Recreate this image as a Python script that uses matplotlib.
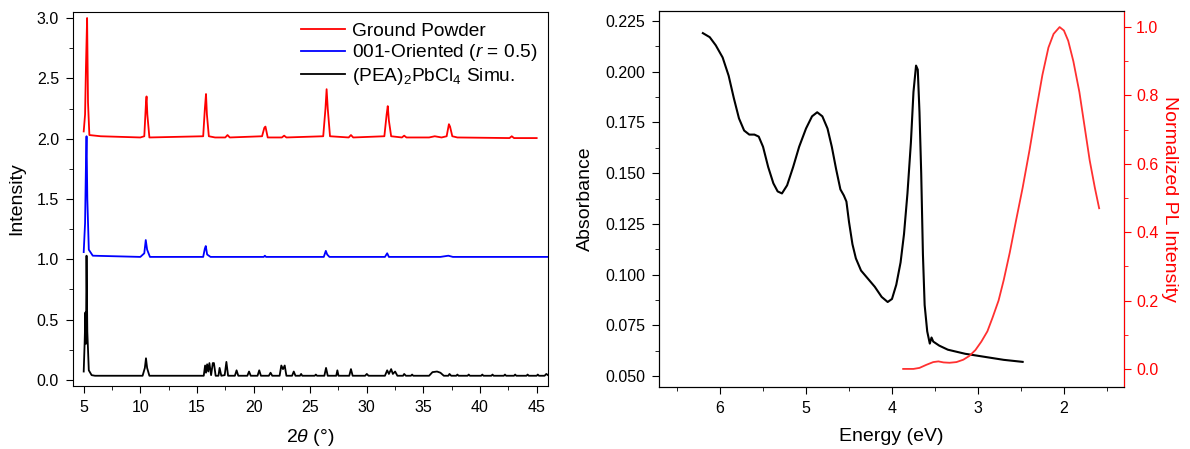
import matplotlib
matplotlib.use("Agg")
import matplotlib.pyplot as plt
from matplotlib.ticker import MultipleLocator, FormatStrFormatter

plt.rcParams['font.family'] = ['Liberation Sans', 'DejaVu Sans']
plt.rcParams['mathtext.fontset'] = 'custom'
plt.rcParams['mathtext.rm'] = 'Liberation Sans'
plt.rcParams['mathtext.it'] = 'Liberation Sans:italic'

# XRD data (2theta, intensity with offsets)
red_x = [5.0, 5.12, 5.2, 5.3, 5.38, 5.5, 6.5, 10.0, 10.35, 10.5, 10.55, 10.62, 10.8,
         15.55, 15.7, 15.8, 15.88, 16.05, 16.6, 17.5, 17.7, 17.9, 20.75, 20.95, 21.05, 21.25,
         22.5, 22.7, 22.9, 26.15, 26.35, 26.45, 26.55, 26.75, 28.4, 28.6, 28.8,
         31.55, 31.75, 31.85, 31.95, 32.15, 33.1, 33.3, 33.5, 35.5, 36.0, 36.6,
         37.05, 37.25, 37.35, 37.55, 38.0, 42.6, 42.8, 43.0, 45.0]
red_y = [2.06, 2.2, 2.6, 3.0, 2.3, 2.03, 2.02, 2.01, 2.02, 2.3, 2.35, 2.2, 2.01,
         2.02, 2.25, 2.37, 2.2, 2.02, 2.01, 2.01, 2.03, 2.01, 2.02, 2.09, 2.1, 2.01,
         2.01, 2.025, 2.01, 2.02, 2.25, 2.41, 2.25, 2.02, 2.01, 2.03, 2.01,
         2.02, 2.2, 2.27, 2.15, 2.02, 2.01, 2.025, 2.01, 2.01, 2.02, 2.01,
         2.02, 2.12, 2.1, 2.02, 2.01, 2.005, 2.02, 2.005, 2.005]

blue_x = [5.0, 5.12, 5.2, 5.25, 5.32, 5.45, 5.8, 10.0, 10.35, 10.48, 10.6, 10.85,
          15.55, 15.7, 15.78, 15.9, 16.2, 20.9, 21.0, 21.1, 26.2, 26.38, 26.5, 26.7,
          31.6, 31.8, 31.95, 36.5, 37.2, 37.6, 46.0]
blue_y = [1.06, 1.3, 1.8, 2.02, 1.5, 1.08, 1.03, 1.02, 1.05, 1.16, 1.08, 1.02,
          1.02, 1.09, 1.11, 1.04, 1.02, 1.02, 1.03, 1.02, 1.02, 1.07, 1.04, 1.02,
          1.02, 1.05, 1.02, 1.02, 1.03, 1.02, 1.02]

black_x = [5.0, 5.08, 5.15, 5.2, 5.25, 5.32, 5.45, 5.7, 6.0, 10.2, 10.4, 10.5, 10.6, 10.8,
           15.6, 15.72, 15.8, 15.9, 16.0, 16.1, 16.25, 16.4, 16.5, 16.65,
           16.9, 17.0, 17.15, 17.45, 17.6, 17.75, 18.35, 18.5, 18.65,
           19.45, 19.6, 19.75, 20.35, 20.5, 20.65, 21.35, 21.5, 21.65,
           22.3, 22.45, 22.6, 22.75, 22.9, 23.4, 23.55, 23.7, 24.1, 24.2, 24.3,
           25.4, 25.5, 25.6, 26.25, 26.4, 26.55, 27.3, 27.4, 27.5, 28.45, 28.6, 28.75,
           29.85, 30.0, 30.15, 31.6, 31.8, 31.95, 32.15, 32.3, 32.5, 32.7,
           33.2, 33.3, 33.45, 33.9, 34.0, 34.1, 35.5, 35.8, 36.2, 36.5, 36.8,
           37.2, 37.3, 37.45, 37.9, 38.0, 38.1, 38.9, 39.0, 39.1, 40.1, 40.2, 40.3,
           41.0, 41.1, 41.2, 42.1, 42.2, 42.3, 43.0, 43.1, 43.2, 44.1, 44.2, 44.3,
           45.0, 45.1, 45.2, 45.7, 45.85, 46.0]
black_y = [0.07, 0.3, 0.56, 0.3, 1.03, 0.4, 0.08, 0.04, 0.035, 0.035, 0.1, 0.18, 0.1, 0.035,
           0.035, 0.12, 0.06, 0.13, 0.07, 0.14, 0.04, 0.14, 0.14, 0.035,
           0.035, 0.1, 0.035, 0.04, 0.15, 0.035, 0.035, 0.08, 0.035,
           0.035, 0.07, 0.035, 0.035, 0.08, 0.035, 0.035, 0.06, 0.035,
           0.035, 0.12, 0.09, 0.12, 0.035, 0.035, 0.07, 0.035, 0.035, 0.05, 0.035,
           0.035, 0.045, 0.035, 0.035, 0.10, 0.035, 0.035, 0.08, 0.035, 0.035, 0.09, 0.035,
           0.035, 0.05, 0.035, 0.035, 0.08, 0.05, 0.09, 0.05, 0.07, 0.035,
           0.035, 0.05, 0.035, 0.035, 0.045, 0.035, 0.035, 0.065, 0.07, 0.06, 0.035,
           0.035, 0.05, 0.035, 0.035, 0.045, 0.035, 0.035, 0.045, 0.035, 0.035, 0.045, 0.035,
           0.035, 0.045, 0.035, 0.035, 0.045, 0.035, 0.035, 0.045, 0.035, 0.035, 0.045, 0.035,
           0.035, 0.045, 0.035, 0.035, 0.05, 0.04]

# Absorbance vs energy
abs_e = [6.20, 6.12, 6.05, 5.97, 5.90, 5.84, 5.78, 5.72, 5.66, 5.60, 5.55, 5.50, 5.44,
         5.38, 5.33, 5.28, 5.22, 5.15, 5.08, 5.00, 4.93, 4.87, 4.81, 4.75, 4.70, 4.65,
         4.60, 4.56, 4.53, 4.50, 4.46, 4.42, 4.36, 4.28, 4.20, 4.12, 4.05, 4.00, 3.95,
         3.90, 3.86, 3.82, 3.78, 3.75, 3.72, 3.70, 3.68, 3.66, 3.64, 3.62, 3.59, 3.56,
         3.54, 3.52, 3.45, 3.35, 3.25, 3.15, 3.00, 2.85, 2.70, 2.48]
abs_a = [0.219, 0.217, 0.213, 0.207, 0.198, 0.187, 0.177, 0.171, 0.169, 0.169, 0.168,
         0.163, 0.153, 0.145, 0.141, 0.140, 0.144, 0.153, 0.163, 0.172, 0.178, 0.180,
         0.178, 0.172, 0.163, 0.152, 0.142, 0.139, 0.136, 0.126, 0.115, 0.108, 0.102,
         0.098, 0.094, 0.089, 0.0865, 0.088, 0.095, 0.106, 0.120, 0.140, 0.165, 0.190,
         0.203, 0.201, 0.180, 0.150, 0.110, 0.085, 0.072, 0.066, 0.069, 0.067, 0.065,
         0.063, 0.062, 0.061, 0.060, 0.059, 0.058, 0.057]

# Normalized PL
pl_e = [3.87, 3.75, 3.68, 3.60, 3.52, 3.46, 3.40, 3.33, 3.25, 3.17, 3.10, 3.03, 2.96,
        2.89, 2.83, 2.76, 2.70, 2.63, 2.56, 2.48, 2.40, 2.32, 2.25, 2.18, 2.12, 2.05,
        2.00, 1.95, 1.89, 1.82, 1.76, 1.70, 1.64, 1.59]
pl_i = [0.0, 0.0, 0.003, 0.012, 0.020, 0.022, 0.019, 0.018, 0.020, 0.027, 0.038, 0.055,
        0.08, 0.11, 0.15, 0.20, 0.26, 0.34, 0.43, 0.53, 0.64, 0.76, 0.86, 0.94, 0.98,
        1.0, 0.99, 0.96, 0.90, 0.81, 0.71, 0.61, 0.53, 0.47]

fig = plt.figure(figsize=(11.9, 4.49), dpi=100)
ax1 = fig.add_axes([0.0613, 0.1403, 0.3992, 0.833])
ax2 = fig.add_axes([0.5538, 0.138, 0.3908, 0.8375])

# left panel
ax1.plot(red_x, red_y, color='red', lw=1.3, label='Ground Powder')
ax1.plot(blue_x, blue_y, color='blue', lw=1.3, label='001-Oriented ($r$ = 0.5)')
ax1.plot(black_x, black_y, color='black', lw=1.3, label='(PEA)$_2$PbCl$_4$ Simu.')
ax1.set_xlim(4.05, 46)
ax1.set_ylim(-0.05, 3.05)
ax1.xaxis.set_major_locator(MultipleLocator(5))
ax1.xaxis.set_minor_locator(MultipleLocator(2.5))
ax1.yaxis.set_major_locator(MultipleLocator(0.5))
ax1.yaxis.set_minor_locator(MultipleLocator(0.25))
ax1.yaxis.set_major_formatter(FormatStrFormatter('%.1f'))
ax1.tick_params(which='both', direction='out', labelsize=11.5)
ax1.tick_params(which='major', length=5, pad=5)
ax1.tick_params(which='minor', length=3)
ax1.set_xlabel(r'2$\it{\theta}$ (°)', fontsize=14, labelpad=9)
ax1.set_ylabel('Intensity', fontsize=14, labelpad=8)
ax1.legend(loc='upper right', frameon=False, fontsize=13.8, handlelength=2.3,
           borderaxespad=0.15, labelspacing=0.12, handletextpad=0.35)

# right panel
ax2.plot(abs_e, abs_a, color='black', lw=1.5)
ax2.set_xlim(6.71, 1.3)
ax2.set_ylim(0.0446, 0.2299)
ax2.xaxis.set_major_locator(MultipleLocator(1))
ax2.xaxis.set_minor_locator(MultipleLocator(0.5))
ax2.yaxis.set_major_locator(MultipleLocator(0.025))
ax2.yaxis.set_minor_locator(MultipleLocator(0.0125))
ax2.yaxis.set_major_formatter(FormatStrFormatter('%.3f'))
ax2.tick_params(which='both', direction='out', labelsize=11.5)
ax2.tick_params(which='major', length=5, pad=5)
ax2.tick_params(which='minor', length=3)
ax2.set_xlabel('Energy (eV)', fontsize=14, labelpad=9)
ax2.set_ylabel('Absorbance', fontsize=14, labelpad=8)

ax3 = ax2.twinx()
ax3.plot(pl_e, pl_i, color='#ff3030', lw=1.3)
ax3.set_ylim(-0.053, 1.047)
ax3.yaxis.set_major_locator(MultipleLocator(0.2))
ax3.yaxis.set_minor_locator(MultipleLocator(0.1))
ax3.yaxis.set_major_formatter(FormatStrFormatter('%.1f'))
ax3.tick_params(which='both', direction='out', colors='red', labelsize=11.5)
ax3.tick_params(which='major', length=5)
ax3.tick_params(which='minor', length=3)
ax3.spines['right'].set_color('red')
ax3.set_ylabel('Normalized PL Intensity', color='red', fontsize=14, rotation=270, labelpad=14)

fig.savefig('out.png', dpi=100)
